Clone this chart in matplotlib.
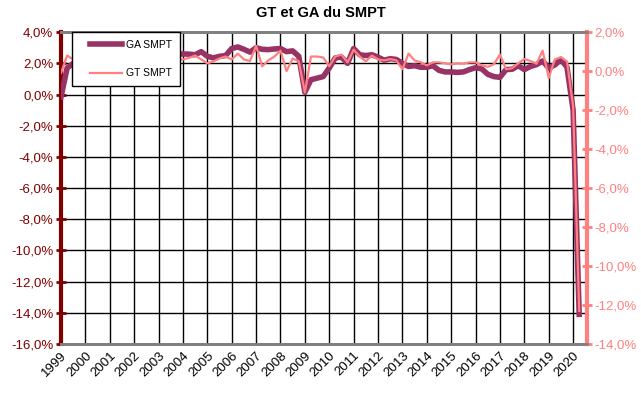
import matplotlib
matplotlib.use('Agg')
import matplotlib.pyplot as plt
from matplotlib.legend_handler import HandlerLine2D
import numpy as np

plt.rcParams['font.family'] = ['Liberation Sans', 'DejaVu Sans']

# --- data: quarterly, 1999T1 .. 2020T2 ---
years = [str(y) for y in range(1999, 2021)]

# GA SMPT (glissement annuel, axe gauche, %)
ga_smpt = [-0.15, 1.7,
           2.0, 2.1, 2.3, 2.4, 2.5, 2.6, 2.5, 2.4, 2.3, 2.4, 2.5, 2.6, 2.4, 2.3, 2.5, 2.6, 2.5, 2.6,
           2.6, 2.59, 2.55, 2.75, 2.45, 2.35, 2.45, 2.5, 2.95, 3.05, 2.9, 2.72,
           3.0, 2.9, 2.88, 2.92, 2.95, 2.75, 2.8, 2.45, 0.15, 0.95, 1.05, 1.15,
           1.7, 2.35, 2.4, 2.0, 2.95, 2.55, 2.5, 2.55, 2.4, 2.2, 2.3, 2.25,
           2.0, 1.8, 1.85, 1.75, 1.75, 1.85, 1.55, 1.45, 1.45, 1.42, 1.45, 1.6,
           1.72, 1.65, 1.3, 1.15, 1.1, 1.6, 1.62, 1.85, 1.6, 1.8, 1.92, 2.15,
           1.7, 1.9, 2.25, 1.75, -1.0, -14.1]

# GT SMPT (glissement trimestriel, axe droit, %)
gt_smpt = [-0.1, 0.8,
           0.6, 0.5, 0.6, 0.7, 0.6, 0.6, 0.7, 0.5, 0.6, 0.6, 0.5, 0.7, 0.6, 0.5, 0.6, 0.7, 0.6, 0.6,
           0.6, 0.68, 0.8, 0.6, 0.4, 0.5, 0.65, 0.75, 0.6, 0.9, 0.6, 0.52,
           1.3, 0.25, 0.55, 0.75, 1.05, 0.0, 0.65, 0.5, -1.1, 0.75, 0.75, 0.7,
           0.25, 0.75, 0.85, 0.45, 1.1, 0.75, 0.5, 0.8, 0.6, 0.55, 0.62, 0.55,
           0.1, 0.9, 0.55, 0.45, 0.3, 0.45, 0.45, 0.4, 0.35, 0.4, 0.38, 0.45,
           0.45, 0.3, 0.22, 0.35, 0.85, 0.1, 0.15, 0.4, 0.62, 0.52, 0.38, 1.05,
           -0.35, 0.6, 0.72, 0.5, -1.8, -12.3]

x = np.arange(len(ga_smpt))
year_pos = np.arange(0, 4 * len(years), 4)

def pct(v, p):
    return f'{v:.1f}%'.replace('.', ',')

fig = plt.figure(figsize=(6.41, 3.97), dpi=100)
ax = fig.add_axes([0.0952, 0.1335, 0.8198, 0.7855])
ax2 = ax.twinx()

# grid
for yv in np.arange(-16, 4, 2):
    ax.axhline(yv, color='black', lw=1, zorder=1)
for xv in year_pos[1:]:
    ax.axvline(xv, color='black', lw=1, zorder=1)

l1, = ax.plot(x, ga_smpt, color='#993366', lw=4, solid_joinstyle='round', zorder=3, label='GA SMPT')
l2, = ax2.plot(x, gt_smpt, color='#FF8080', lw=1.6, zorder=3, label='GT SMPT')

ax.set_xlim(0, 86.2)
ax.set_ylim(-16, 4)
ax2.set_ylim(-14, 2)
ax.set_yticks(np.arange(-16, 5, 2))
ax2.set_yticks(np.arange(-14, 3, 2))
ax.yaxis.set_major_formatter(plt.FuncFormatter(pct))
ax2.yaxis.set_major_formatter(plt.FuncFormatter(pct))

ax.set_xticks(year_pos)
ax.set_xticklabels(years, rotation=45, ha='right', va='top', rotation_mode='anchor', fontsize=9.5)
ax.tick_params(axis='x', length=0, pad=4)

ax.tick_params(axis='y', direction='inout', length=7, width=2, color='#800000',
               labelcolor='#800000', labelsize=9.5, pad=2)
ax2.tick_params(axis='y', direction='inout', length=7, width=2, color='#FF8080',
                labelcolor='#FF8080', labelsize=9.5, pad=2)

for a in (ax, ax2):
    a.spines['top'].set_color('#808080')
    a.spines['top'].set_linewidth(2)
    a.spines['bottom'].set_color('#808080')
    a.spines['bottom'].set_linewidth(2)
ax.spines['left'].set_color('#800000')
ax.spines['left'].set_linewidth(3)
ax2.spines['left'].set_visible(False)
ax2.spines['right'].set_color('#FF8080')
ax2.spines['right'].set_linewidth(3)
ax.spines['right'].set_visible(False)

hmap = {l1: HandlerLine2D(xpad=1.0), l2: HandlerLine2D(xpad=1.0)}
leg = ax2.legend([l1, l2], ['GA SMPT', 'GT SMPT'], loc='upper left',
                 bbox_to_anchor=(0.021, 1.0), borderaxespad=0, fontsize=7.5,
                 frameon=True, fancybox=False, edgecolor='black', framealpha=1,
                 labelspacing=1.75, handlelength=4.0, handletextpad=0.4,
                 borderpad=0.75, handler_map=hmap)
leg.get_frame().set_linewidth(1)
leg.set_zorder(10)

fig.suptitle('GT et GA du SMPT', x=0.5, y=0.985, fontsize=10.5, fontweight='bold')

fig.savefig('out.png', dpi=100)
